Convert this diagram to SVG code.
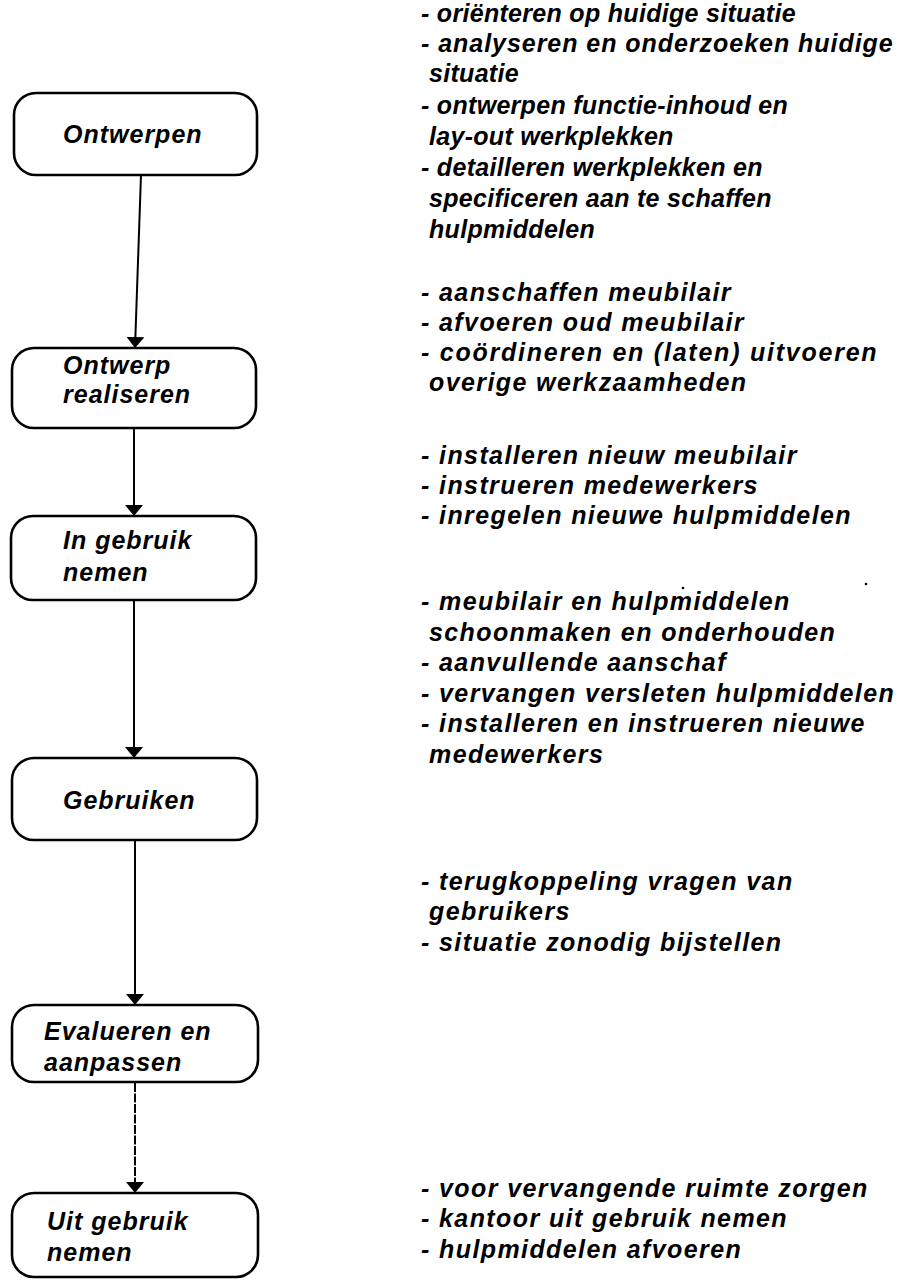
<svg xmlns="http://www.w3.org/2000/svg" width="902" height="1283" viewBox="0 0 902 1283">
  <style>
    .box { fill: #fff; stroke: #000; stroke-width: 2.6; }
    .lbl { font-family: "Liberation Sans", Arial, sans-serif; font-weight: bold; font-style: italic; font-size: 25px; letter-spacing: 1px; fill: #000; }
    .txt { font-family: "Liberation Sans", Arial, sans-serif; font-weight: bold; font-style: italic; font-size: 25px; letter-spacing: 1.4px; fill: #000; }
    .tight { letter-spacing: 0.3px; }
    .edge { stroke: #000; stroke-width: 2; fill: none; marker-end: url(#arrow); }
  </style>
  <defs>
    <marker id="arrow" markerUnits="userSpaceOnUse" markerWidth="12" markerHeight="19" refX="11" refY="9" orient="auto">
      <path d="M0,0 L11,9 L0,18 Z" fill="#000"/>
    </marker>
  </defs>
  <rect width="902" height="1283" fill="#fff"/>

  <!-- connectors between the phases -->
  <g id="connectors">
    <path class="edge" d="M141,175 L135,348"/>
    <path class="edge" d="M134,429 L134,516"/>
    <path class="edge" d="M134,600 L134,758"/>
    <path class="edge" d="M135,840 L135,1005"/>
    <path class="edge" d="M135,1083 L135,1193" stroke-width="1.5" stroke-dasharray="9 1.5"/>
  </g>

  <!-- phases -->
  <g id="ontwerpen">
    <rect class="box" x="14" y="93" width="243" height="82" rx="22"/>
    <text class="lbl" x="63" y="143">Ontwerpen</text>
  </g>
  <g id="ontwerp-realiseren">
    <rect class="box" x="12" y="348" width="244" height="80" rx="22"/>
    <text class="lbl" x="63" y="374">Ontwerp</text>
    <text class="lbl" x="63" y="403">realiseren</text>
  </g>
  <g id="in-gebruik-nemen">
    <rect class="box" x="11" y="516" width="245" height="84" rx="22"/>
    <text class="lbl" x="63" y="549">In gebruik</text>
    <text class="lbl" x="63" y="581">nemen</text>
  </g>
  <g id="gebruiken">
    <rect class="box" x="12" y="758" width="245" height="82" rx="22"/>
    <text class="lbl" x="63" y="809">Gebruiken</text>
  </g>
  <g id="evalueren">
    <rect class="box" x="12" y="1005" width="246" height="77" rx="22"/>
    <text class="lbl" x="44" y="1040">Evalueren en</text>
    <text class="lbl" x="44" y="1071">aanpassen</text>
  </g>
  <g id="uit-gebruik-nemen">
    <rect class="box" x="12" y="1193" width="246" height="84" rx="22"/>
    <text class="lbl" x="47" y="1230">Uit gebruik</text>
    <text class="lbl" x="47" y="1261">nemen</text>
  </g>

  <!-- activities per phase -->
  <g id="acties-ontwerpen">
    <text class="txt tight" x="421" y="22">- oriënteren op huidige situatie</text>
    <text class="txt tight" x="421" y="52" textLength="472">- analyseren en onderzoeken huidige</text>
    <text class="txt tight" x="429" y="82">situatie</text>
    <text class="txt tight" x="421" y="114">- ontwerpen functie-inhoud en</text>
    <text class="txt tight" x="429" y="145">lay-out werkplekken</text>
    <text class="txt tight" x="421" y="176">- detailleren werkplekken en</text>
    <text class="txt tight" x="429" y="207">specificeren aan te schaffen</text>
    <text class="txt tight" x="429" y="238">hulpmiddelen</text>
  </g>
  <g id="acties-realiseren">
    <text class="txt" x="421" y="301">- aanschaffen meubilair</text>
    <text class="txt" x="421" y="331">- afvoeren oud meubilair</text>
    <text class="txt" x="421" y="361" textLength="457">- coördineren en (laten) uitvoeren</text>
    <text class="txt" x="429" y="391">overige werkzaamheden</text>
  </g>
  <g id="acties-in-gebruik">
    <text class="txt" x="421" y="464">- installeren nieuw meubilair</text>
    <text class="txt" x="421" y="494">- instrueren medewerkers</text>
    <text class="txt" x="421" y="524">- inregelen nieuwe hulpmiddelen</text>
  </g>
  <g id="acties-gebruiken">
    <text class="txt" x="421" y="610">- meubilair en hulpmiddelen</text>
    <text class="txt" x="429" y="641">schoonmaken en onderhouden</text>
    <text class="txt" x="421" y="671">- aanvullende aanschaf</text>
    <text class="txt" x="421" y="702">- vervangen versleten hulpmiddelen</text>
    <text class="txt" x="421" y="732">- installeren en instrueren nieuwe</text>
    <text class="txt" x="429" y="763">medewerkers</text>
  </g>
  <g id="acties-evalueren">
    <text class="txt" x="421" y="890">- terugkoppeling vragen van</text>
    <text class="txt" x="429" y="920">gebruikers</text>
    <text class="txt" x="421" y="951">- situatie zonodig bijstellen</text>
  </g>
  <g id="acties-uit-gebruik">
    <text class="txt" x="421" y="1197">- voor vervangende ruimte zorgen</text>
    <text class="txt" x="421" y="1227">- kantoor uit gebruik nemen</text>
    <text class="txt" x="421" y="1258">- hulpmiddelen afvoeren</text>
  </g>

  <!-- loose specks on the sheet -->
  <circle cx="683" cy="588" r="1.3" fill="#000"/>
  <circle cx="866" cy="584" r="1.3" fill="#000"/>
</svg>
